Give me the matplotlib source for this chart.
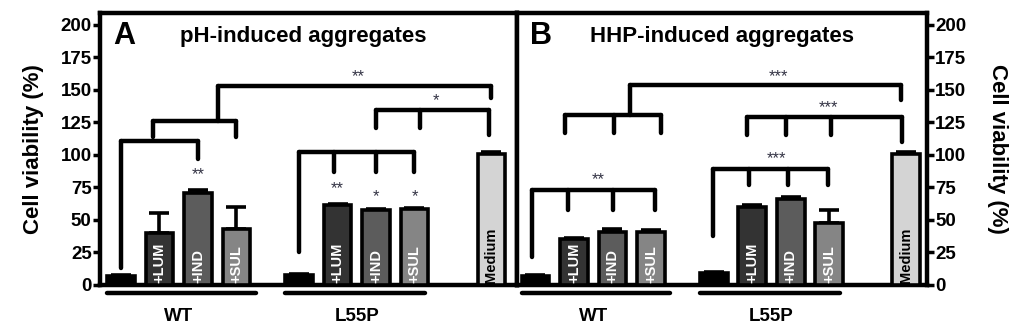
import matplotlib
matplotlib.use("Agg")
from matplotlib import pyplot as plt
import numpy as np

plt.rcParams['font.family'] = ['Liberation Sans', 'DejaVu Sans']
plt.rcParams['font.weight'] = 'bold'

# bar order: WT, WT+LUM, WT+IND, WT+SUL, L55P, L55P+LUM, L55P+IND, L55P+SUL, Medium
positions = [0, 1, 2, 3, 4.63, 5.63, 6.63, 7.63, 9.63]
bar_labels = ['', '+LUM', '+IND', '+SUL', '', '+LUM', '+IND', '+SUL', 'Medium']
bar_colors = ['#000000', '#333333', '#5c5c5c', '#858585',
              '#000000', '#333333', '#5c5c5c', '#858585', '#d4d4d4']

ph_values = [7, 40, 71, 43, 8, 61.5, 58, 58.5, 101]
ph_errors = [1, 15, 2, 17, 0.5, 0.8, 0.5, 0.8, 1.5]
hhp_values = [7, 35.5, 41, 40.5, 9.5, 60, 66, 47.5, 101]
hhp_errors = [0.3, 0.3, 2, 1.5, 0.3, 1.5, 2, 10.5, 1.5]

groups = ['WT', 'L55P']
group_spans = [(0, 3), (4.63, 7.63)]
group_line_ends = [0.5, 0.28]

# brackets: (horizontal height, [(leg x, leg bottom), ...], stem (x, top) or None)
ph_brackets = [
    (111, [(0, 13), (2, 97)], None),
    (126, [(0.83, 114), (3, 114)], (2.52, 153)),
    (153, [(2.52, 153), (9.61, 144)], None),
    (102, [(4.63, 25), (5.53, 87), (6.63, 87), (7.63, 87)], None),
    (134.6, [(6.62, 121), (7.77, 121), (9.56, 115)], None),
]
ph_stars = [(6.16, 160, '**'), (8.2, 142, '*'),
            (2, 85, '**'), (5.63, 74, '**'), (6.63, 68, '*'), (7.63, 68, '*')]

hhp_brackets = [
    (73, [(-0.09, 21.5), (0.84, 58), (2.01, 58), (3.1, 58)], None),
    (131, [(0.77, 117), (2.04, 117), (3.26, 117)], (2.45, 154)),
    (154, [(2.45, 154), (9.5, 142)], None),
    (89, [(4.61, 38), (5.55, 77), (6.56, 77), (7.6, 77)], None),
    (129, [(5.49, 115), (6.51, 115), (7.68, 115), (9.52, 110)], None),
]
hhp_stars = [(1.62, 81, '**'), (6.32, 160, '***'), (6.27, 97, '***'), (7.6, 136, '***')]

LW = 3.2


def draw_panel(ax, values, errors, brackets, stars, letter, title, xlim, title_x):
    ax.bar(positions, values, width=0.72, color=bar_colors, edgecolor='black',
           linewidth=2.6, zorder=3)
    ax.errorbar(positions, values, yerr=[np.zeros(len(errors)), errors], fmt='none',
                ecolor='black', elinewidth=2.6, capsize=7, capthick=2.6, zorder=2)
    for x, lab in zip(positions, bar_labels):
        if lab:
            tc = 'black' if lab == 'Medium' else 'white'
            ax.text(x, 1.5, lab, rotation=90, ha='center', va='bottom', color=tc,
                    fontsize=10.5, fontweight='bold', zorder=4)

    for h, legs, stem in brackets:
        xs = [p[0] for p in legs]
        if stem is not None:
            xs.append(stem[0])
        ax.plot([min(xs), max(xs)], [h, h], color='black', lw=LW,
                solid_capstyle='round', zorder=2)
        for lx, lb in legs:
            ax.plot([lx, lx], [lb, h], color='black', lw=LW,
                    solid_capstyle='round', zorder=2)
        if stem is not None:
            ax.plot([stem[0], stem[0]], [h, stem[1]], color='black', lw=LW,
                    solid_capstyle='round', zorder=2)
    for sx, sy, s in stars:
        ax.text(sx, sy, s, ha='center', va='center', fontsize=12,
                color='#333344', fontweight='normal')

    for g, (a, b), e in zip(groups, group_spans, group_line_ends):
        ax.plot([a - 0.36, b + e], [-6.3, -6.3], color='black', lw=LW,
                solid_capstyle='round', clip_on=False)
        ax.text((a + b) / 2, -24, g, ha='center', va='center', fontsize=13.5,
                fontweight='bold')

    ax.text(xlim[0] + 0.35, 191, letter, ha='left', va='center', fontsize=22,
            fontweight='bold')
    ax.text(title_x, 191, title, ha='center', va='center', fontsize=16,
            fontweight='bold')

    ax.set_xlim(*xlim)
    ax.set_ylim(0, 209)
    ax.set_xticks([])
    for sp in ax.spines.values():
        sp.set_linewidth(LW)
    ax.set_yticks(np.arange(0, 201, 25))
    ax.tick_params(axis='y', direction='out', length=5, width=2.5, labelsize=13.5,
                   pad=1)
    for t in ax.get_yticklabels():
        t.set_fontweight('bold')


fig = plt.figure(figsize=(10.24, 3.32), dpi=100)
ax1 = fig.add_axes([0.0977, 0.1416, 0.407, 0.819])
ax2 = fig.add_axes([0.5049, 0.1416, 0.4004, 0.819])

draw_panel(ax1, ph_values, ph_errors, ph_brackets, ph_stars, 'A',
           'pH-induced aggregates', (-0.545, 10.29), 4.75)
draw_panel(ax2, hhp_values, hhp_errors, hhp_brackets, hhp_stars, 'B',
           'HHP-induced aggregates', (-0.48, 10.17), 4.84)

ax1.set_ylabel('Cell viability (%)', fontsize=16, fontweight='bold', labelpad=12)
ax2.yaxis.tick_right()
ax2.yaxis.set_label_position('right')
ax2.set_ylabel('Cell viability (%)', fontsize=16, fontweight='bold', rotation=270,
               labelpad=30)

fig.savefig('out.png', dpi=100)
